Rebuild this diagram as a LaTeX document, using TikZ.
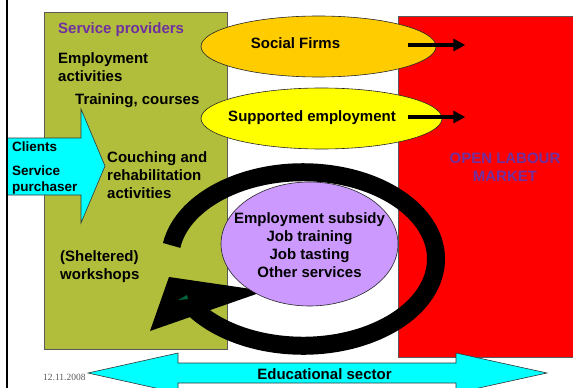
\documentclass[tikz,border=0pt]{standalone}
\usepackage{fontspec}
\setmainfont{Liberation Sans}
\newfontfamily\datefont{Liberation Serif}
\usetikzlibrary{arrows.meta, positioning, shapes.geometric}
\definecolor{color1}{RGB}{176,190,60}
\definecolor{color2}{RGB}{255,0,0}
\definecolor{color3}{RGB}{255,204,0}
\definecolor{color4}{RGB}{255,255,0}
\definecolor{color5}{RGB}{204,153,255}
\definecolor{color6}{RGB}{0,255,255}
\definecolor{color7}{RGB}{112,48,160}
\definecolor{color8}{RGB}{0,100,60}

\begin{document}
\begin{tikzpicture}[x=1pt,y=-1pt,font=\fontsize{15}{18}\selectfont\bfseries]

    \useasboundingbox (0,0) rectangle (573,388);

    \tikzset{
    % shapes: boxes, ovals and block arrows
    box/.style={draw=black!65, line width=0.8pt},
    oval/.style={ellipse, draw=black!85, line width=0.6pt, inner sep=0pt},
    blockarrow/.style={draw=black!80, line width=0.6pt, fill=color6},
    pointer/.style={line width=4pt, -{Triangle[length=12pt,width=12pt]}},
    % texts (multi-line nodes sit on the baseline of their last line)
    txt/.style={inner sep=0pt, anchor=base west, align=left},
    ctxt/.style={inner sep=0pt, anchor=base, align=center},
    small/.style={font=\fontsize{13.5}{16}\selectfont\bfseries}
    }

    % the two big boxes
    \draw[box, fill=color1] (44,12) rectangle (227,349);
    \draw[box, fill=color2] (398,16) rectangle (590,357);

    % clients arrow
    \draw[blockarrow] (7,138) -- (81,138) -- (81,109) -- (105,166)
        -- (81,223) -- (81,195) -- (7,195) -- cycle;

    % the two upper ovals
    \node[oval, fill=color3, minimum width=235pt, minimum height=61pt]
        (firms) at (318.5,46.5) {};
    \node[oval, fill=color4, minimum width=241pt, minimum height=61pt]
        (supported) at (321.5,118.5) {};

    \draw[pointer] ([xshift=-28pt,yshift=1.5pt]firms.east) -- ++(57,0);
    \draw[pointer] ([xshift=-34pt,yshift=1.5pt]supported.east) -- ++(57,0);

    % round arrow
    \coordinate (loop) at (303,259);
    \draw[line width=18pt] (loop) ++(189:133 and 86.75)
        arc[start angle=189, end angle=505, x radius=133, y radius=86.75];
    \fill (150,331) -- (169,277) -- (265,291) -- cycle;
    \fill[color8] (178,300) -- (187,295) -- (188,299) -- cycle;

    \node[oval, fill=color5, minimum width=177pt, minimum height=124pt]
        (services) at (309.5,244) {};

    % educational sector arrow
    \draw[blockarrow] (88,373) -- (178,353) -- (178,363) -- (456,363)
        -- (456,353) -- (547,373) -- (456,393) -- (456,383) -- (178,383)
        -- (178,393) -- cycle;

    % left rule
    \draw[line width=2pt] (7,-2) -- (7,390);

    % texts
    \node[txt, text=color7] (provhead) at (58,34) {Service providers};
    \node[txt] (employ) at (58,81) {Employment\\activities};
    \node[txt] (training) at (75,104) {Training, courses};
    \node[txt] (coach) at (107,198) {Couching and\\rehabilitation\\activities};
    \node[txt] (shelter) at (60,279) {(Sheltered)\\workshops};

    \node[txt, small] (clients) at (12,151) {Clients};
    \node[txt, small] (purchaser) at (12,175) {Service};
    \node[txt, small] (purchaser2) at (12,191) {purchaser};

    \node[ctxt] (firmstext) at (295.5,48.3) {Social Firms};
    \node[ctxt] (supptext) at (312,121.7) {Supported employment};
    \node[ctxt] (servtext) at (309.5,277.3)
        {Employment subsidy\\Job training\\Job tasting\\Other services};
    \node[ctxt, text=color7] (market) at (505,181.7) {OPEN LABOUR\\MARKET};
    \node[ctxt] (edu) at (324.5,379.3) {Educational sector};

    \node[txt, font=\datefont\fontsize{9.5}{11}\selectfont, text=black!65]
        (date) at (43,380) {12.11.2008};

\end{tikzpicture}
\end{document}
